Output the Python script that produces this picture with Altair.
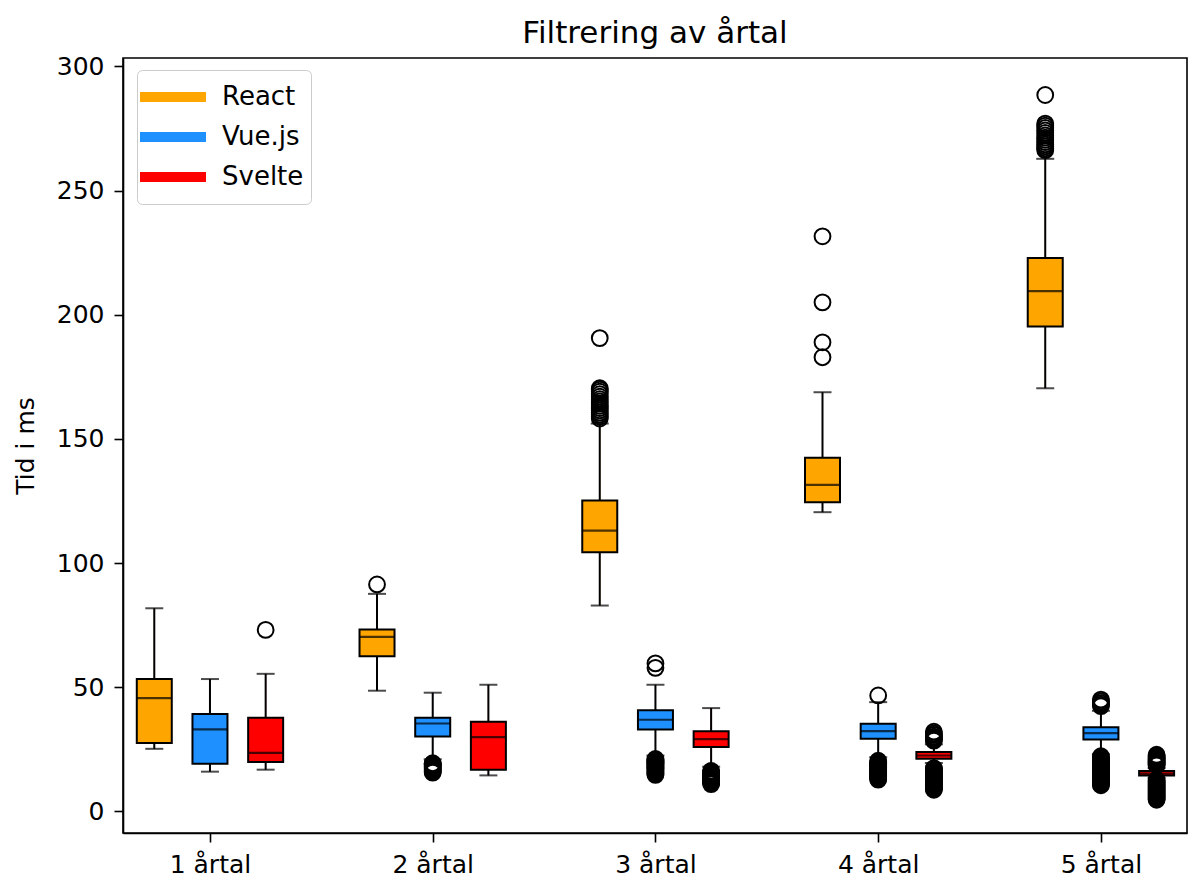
import altair as alt
import pandas as pd

# ---- data ----
groups = [1, 2, 3, 4, 5]
group_labels = ["1 årtal", "2 årtal", "3 årtal", "4 årtal", "5 årtal"]
frameworks = ["React", "Vue.js", "Svelte"]
colors = ["#FFA500", "#1E90FF", "#FF0000"]
offsets = [-0.25, 0.0, 0.25]

react_lo = [25.2, 48.6, 82.9, 120.5, 170.4]
react_q1 = [27.5, 62.5, 104.4, 124.5, 195.3]
react_med = [45.6, 70.3, 113.1, 131.5, 209.5]
react_q3 = [53.3, 73.3, 125.2, 142.4, 222.9]
react_hi = [81.8, 87.6, 156.2, 168.8, 262.8]
react_out = [
    [],
    [91.4],
    [158.2, 159.0, 159.8, 160.6, 161.5, 162.4, 163.3, 164.2, 165.1, 166.0, 167.0, 168.0,
     169.0, 169.8, 170.4, 190.6],
    [182.9, 188.9, 205.0, 231.6],
    [266.3, 267.0, 267.8, 268.6, 269.5, 270.4, 271.3, 272.2, 273.2, 274.2, 275.2, 276.2,
     277.0, 288.5],
]

vue_lo = [16.0, 21.0, 22.5, 21.8, 23.0]
vue_q1 = [19.2, 30.2, 33.0, 29.3, 29.0]
vue_med = [33.0, 35.4, 36.9, 32.3, 31.5]
vue_q3 = [39.2, 37.7, 40.7, 35.3, 33.9]
vue_hi = [53.3, 47.8, 51.0, 44.0, 40.5]
vue_out = [
    [],
    [15.6, 16.0, 16.4, 16.8, 17.2, 17.6, 18.0, 18.4, 18.8, 19.1, 19.4],
    [14.7, 15.1, 15.5, 15.9, 16.3, 16.7, 17.1, 17.5, 17.9, 18.3, 18.7, 19.1, 19.5, 19.9,
     20.3, 20.7, 21.1, 57.8, 59.6],
    [12.8, 13.2, 13.6, 14.0, 14.4, 14.8, 15.2, 15.6, 16.0, 16.4, 16.8, 17.2, 17.6, 18.0,
     18.4, 18.8, 19.2, 19.6, 20.0, 20.4, 46.7],
    [10.5, 10.9, 11.3, 11.7, 12.1, 12.5, 12.9, 13.3, 13.7, 14.1, 14.5, 14.9, 15.3, 15.7,
     16.1, 16.5, 16.9, 17.3, 17.7, 18.1, 18.5, 18.9, 19.3, 19.7, 20.1, 20.5, 20.9, 21.3,
     21.7, 22.2, 42.4, 43.0, 43.6, 44.3, 45.0],
]

svelte_lo = [16.8, 14.5, 18.0, 19.5, 13.5]
svelte_q1 = [19.9, 16.8, 25.9, 21.2, 14.5]
svelte_med = [23.6, 29.9, 29.1, 22.5, 15.2]
svelte_q3 = [37.7, 36.1, 32.3, 23.9, 16.3]
svelte_hi = [55.4, 51.0, 41.6, 27.0, 17.5]
svelte_out = [
    [73.1],
    [],
    [11.0, 11.4, 11.8, 12.2, 12.6, 13.0, 13.4, 13.8, 14.2, 14.6, 15.0, 15.4, 15.8, 16.3],
    [8.7, 9.1, 9.5, 9.9, 10.3, 10.7, 11.1, 11.5, 11.9, 12.3, 12.7, 13.1, 13.5, 13.9, 14.3,
     14.7, 15.1, 15.5, 15.9, 16.3, 16.7, 17.1, 17.4, 28.5, 29.0, 29.5, 30.1, 30.8, 31.4, 32.1],
    [4.7, 5.1, 5.5, 5.9, 6.3, 6.7, 7.1, 7.5, 7.9, 8.3, 8.7, 9.1, 9.5, 9.9, 10.3, 10.7, 11.1,
     11.5, 11.9, 12.3, 12.6, 18.5, 18.9, 19.4, 19.8, 20.3, 20.7, 21.2, 21.6, 22.0, 22.4, 22.8],
]

stats = {
    "React": (react_lo, react_q1, react_med, react_q3, react_hi, react_out),
    "Vue.js": (vue_lo, vue_q1, vue_med, vue_q3, vue_hi, vue_out),
    "Svelte": (svelte_lo, svelte_q1, svelte_med, svelte_q3, svelte_hi, svelte_out),
}

box_rows, out_rows = [], []
for fw, off in zip(frameworks, offsets):
    lo, q1, med, q3, hi, outs = stats[fw]
    for i, g in enumerate(groups):
        box_rows.append(dict(fw=fw, pos=g + off, lo=lo[i], q1=q1[i], med=med[i], q3=q3[i], hi=hi[i]))
        for v in outs[i]:
            out_rows.append(dict(fw=fw, pos=g + off, val=v))
boxes = pd.DataFrame(box_rows)
outliers = pd.DataFrame(out_rows)

FONT = "DejaVu Sans"
LW = 2
xscale = alt.Scale(domain=[0.632, 5.364], nice=False, zero=False)
yscale = alt.Scale(domain=[-8.7, 303.4], nice=False, zero=False)
cscale = alt.Scale(domain=frameworks, range=colors)

x = alt.X("pos:Q", scale=xscale,
          axis=alt.Axis(values=groups, title=None,
                        labelExpr="datum.value + ' årtal'"))
y_axis = alt.Axis(values=[0, 50, 100, 150, 200, 250, 300], title="Tid i ms")

base = alt.Chart(boxes)

# coloured rule hidden under the black whiskers: it carries the legend
legend_layer = base.mark_rule(strokeWidth=1).encode(
    x=x, y=alt.Y("lo:Q", scale=yscale, axis=y_axis), y2="hi:Q",
    color=alt.Color("fw:N", scale=cscale,
                    legend=alt.Legend(
                        title=None, orient="none", legendX=14, legendY=12,
                        symbolType="M-2.2,0L2.2,0", symbolSize=900, symbolStrokeWidth=10,
                        symbolOffset=9,
                        labelFont=FONT, labelFontSize=26, labelColor="black",
                        labelOffset=29, padding=7, rowPadding=0,
                        fillColor="rgba(255,255,255,0.8)", strokeColor="#cccccc",
                        cornerRadius=5)))
whiskers = base.mark_rule(color="black", strokeWidth=LW).encode(
    x=x, y=alt.Y("lo:Q", scale=yscale), y2="hi:Q")
cap_lo = base.mark_tick(orient="horizontal", size=18, thickness=LW, color="black").encode(
    x=x, y=alt.Y("lo:Q", scale=yscale))
cap_hi = base.mark_tick(orient="horizontal", size=18, thickness=LW, color="black").encode(
    x=x, y=alt.Y("hi:Q", scale=yscale))
box = base.mark_bar(size=35, stroke="black", strokeWidth=LW, opacity=1).encode(
    x=x, y=alt.Y("q1:Q", scale=yscale), y2="q3:Q",
    fill=alt.Fill("fw:N", scale=cscale, legend=None))
median = base.mark_tick(orient="horizontal", size=35, thickness=2.2, color="black").encode(
    x=x, y=alt.Y("med:Q", scale=yscale))
fliers = alt.Chart(outliers).mark_point(
    shape="circle", filled=False, size=250, stroke="black", strokeWidth=2, opacity=1
).encode(x=x, y=alt.Y("val:Q", scale=yscale))

chart = alt.layer(legend_layer, whiskers, cap_lo, cap_hi, box, median, fliers).properties(
    width=1064, height=775,
    title=alt.Title("Filtrering av årtal", font=FONT, fontSize=31, fontWeight="normal",
                    color="black", anchor="middle", offset=4),
    autosize=alt.AutoSizeParams(type="none"),
    padding={"left": 123, "top": 58, "right": 1, "bottom": 44},
).configure(background="white").configure_view(
    stroke="black", strokeWidth=1.6
).configure_axis(
    grid=False, domainColor="black", domainWidth=1.6, tickColor="black", tickWidth=1.6,
    tickSize=9, labelFont=FONT, labelFontSize=25, labelColor="black", labelPadding=10,
    titleFont=FONT, titleFontSize=25, titleFontWeight="normal", titleColor="black",
    titlePadding=18,
)

chart.save("out.html", embed_options={"renderer": "svg", "actions": False})
